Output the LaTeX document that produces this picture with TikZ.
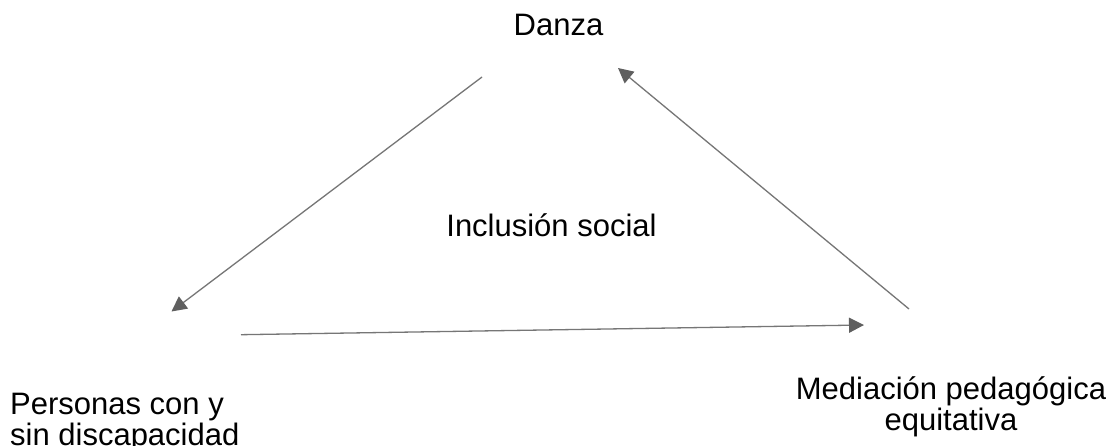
\documentclass[tikz,border=0pt]{standalone}
\usepackage{fontspec}
\setmainfont{Liberation Sans}
\usetikzlibrary{arrows.meta}
\definecolor{arrowgray}{RGB}{118,118,118}
\definecolor{headgray}{RGB}{95,95,95}
\tikzset{
  label text/.style={inner sep=0pt, font=\fontsize{31}{32}\selectfont, text=black},
  link/.style={draw=arrowgray, line width=1.3pt,
    -{Triangle[length=15pt,width=15pt,color=headgray]}},
}
\begin{document}
\begin{tikzpicture}[x=1pt,y=-1pt]
\useasboundingbox (0,0) rectangle (1120,446);
\fill[white] (0,0) rectangle (1120,446);
\node[label text, anchor=base] (danza) at (558.5,36) {Danza};
\node[label text, anchor=base] (inclusion) at (551.5,237) {Inclusión social};
\node[label text, anchor=base west, align=left] (personas) at (10,446) {Personas con y\\sin discapacidad};
\node[label text, anchor=base, align=center] (mediacion) at (951,431) {Mediación pedagógica\\equitativa};
\coordinate (a1s) at (482,77);
\coordinate (a1e) at (171.5,311.5);
\coordinate (a2s) at (241,334.7);
\coordinate (a2e) at (864,325);
\coordinate (a3s) at (909,309);
\coordinate (a3e) at (618,68);
\draw[link] (a1s) -- (a1e);
\draw[link] (a2s) -- (a2e);
\draw[link] (a3s) -- (a3e);
\end{tikzpicture}
\end{document}
